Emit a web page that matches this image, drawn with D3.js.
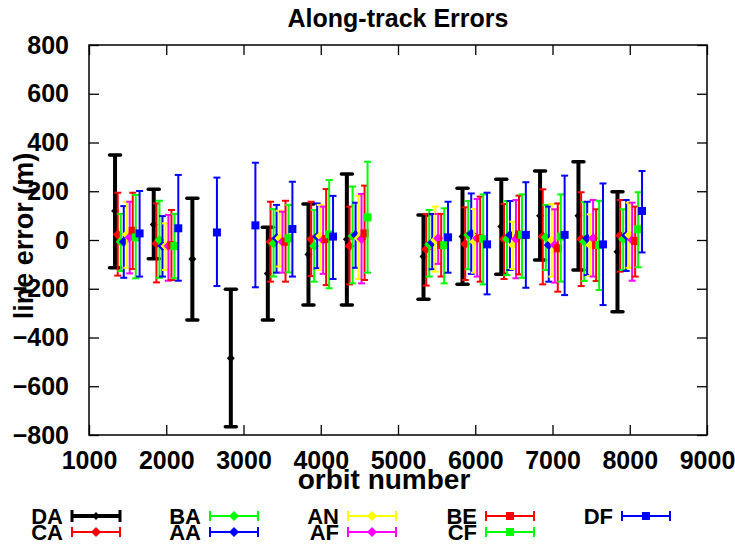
<!DOCTYPE html>
<html><head><meta charset="utf-8">
<script src="https://cdn.jsdelivr.net/npm/d3@7"></script>
<style>
html,body{margin:0;padding:0;background:#fff;}
text{font-family:"Liberation Sans",Arial,sans-serif;font-weight:bold;fill:#000;}
</style></head>
<body>
<svg id="chart" width="735" height="544"></svg>
<script>
// ---- data ----
const clusterOrbits = [1337, 1838, 2338, 2836, 3315, 3841, 4338, 5330, 5835, 6337, 6839, 7336, 7841];
const seriesNames = ["DA","CA","BA","AA","AN","AF","BE","CF","DF"];
const seriesOffsets = [0, 35, 74, 113, 152, 190, 229, 268, 318];
const seriesColors = ["#000000","#ff0000","#00ff00","#0000ff","#ffff00","#ff00ff","#ff0000","#00ff00","#0000ff"];
const seriesMarkers = ["diamond","diamond","diamond","diamond","diamond","diamond","square","square","square"];
const n = null;
const DA_mid = [119, 64, -78, -485, -137, -59, 3, -68, 14, 55, 100, 100, -48];
const DA_hi  = [349, 208, 171, -202, 52, 148, 271, 103, 212, 249, 283, 321, 198];
const DA_lo  = [-114, -77, -328, -766, -328, -267, -267, -243, -182, -141, -82, -123, -294];
const CA_mid = [23, -14, n, n, -7, 4, -25, -38, -16, 4, 14, 4, 18];
const CA_hi  = [194, 150, n, n, 157, 157, 137, 107, 134, 148, 208, 196, 164];
const CA_lo  = [-146, -174, n, n, -171, -148, -182, -187, -164, -160, -182, -189, -130];
const BA_mid = [-7, 0, n, n, -14, -25, 16, -18, 21, 4, 11, -7, 3];
const BA_hi  = [107, 161, n, n, 127, 123, 219, 123, 160, 160, 144, 155, 126];
const BA_lo  = [-127, -155, n, n, -150, -171, -178, -150, -120, -144, -123, -168, -123];
const AA_mid = [-7, -25, n, n, 7, 14, 21, -10, 27, 21, -21, 7, 18];
const AA_hi  = [139, 98, n, n, 144, 150, 153, 107, 191, 160, 137, 157, 164];
const AA_lo  = [-155, -150, n, n, -134, -116, -114, -120, -139, -123, -171, -144, -127];
const AN_mid = [23, -25, n, n, 7, 16, 7, 0, -7, -21, 0, -21, 21];
const AN_hi  = [157, 68, n, n, 120, 144, 181, 137, 127, 75, 148, 105, 153];
const AN_lo  = [-114, -123, n, n, -109, -123, -160, -130, -134, -119, -150, -148, -114];
const AF_mid = [11, -25, n, n, -7, 0, 4, 7, 7, 4, -21, 7, 0];
const AF_hi  = [157, 103, n, n, 116, 137, 189, 107, 168, 164, 126, 164, 153];
const AF_lo  = [-137, -167, n, n, -134, -139, -178, -98, -150, -157, -175, -150, -167];
const BE_mid = [38, -21, n, n, -7, 4, 27, -21, 7, 23, -34, -21, -4];
const BE_hi  = [194, 123, n, n, 161, 209, 223, 107, 178, 182, 150, 126, 137];
const BE_lo  = [-119, -164, n, n, -171, -185, -164, -150, -171, -141, -212, -168, -150];
const CF_mid = [11, -25, n, n, 7, 23, 93, -21, 4, 21, 14, -21, 44];
const CF_hi  = [185, 107, n, n, 144, 246, 321, 130, 187, 187, 187, 161, 196];
const CF_lo  = [-157, -157, n, n, -133, -198, -134, -178, -182, -155, -171, -205, -112];
const DF_mid = [27, 48, 31, 60, 45, 14, n, 11, -18, 21, 21, -18, 119];
const DF_hi  = [201, 267, 256, 317, 239, 181, n, 157, 194, 237, 264, 232, 283];
const DF_lo  = [-150, -167, -189, -194, -150, -160, n, -134, -223, -196, -226, -267, -51];
const xTicks = [1000, 2000, 3000, 4000, 5000, 6000, 7000, 8000, 9000];
const yTicks = [-800, -600, -400, -200, 0, 200, 400, 600, 800];

const seriesData = [
  [DA_mid, DA_lo, DA_hi], [CA_mid, CA_lo, CA_hi], [BA_mid, BA_lo, BA_hi],
  [AA_mid, AA_lo, AA_hi], [AN_mid, AN_lo, AN_hi], [AF_mid, AF_lo, AF_hi],
  [BE_mid, BE_lo, BE_hi], [CF_mid, CF_lo, CF_hi], [DF_mid, DF_lo, DF_hi]
];

// ---- layout ----
const svg = d3.select("#chart");
const L = 89, R = 707, T = 45, B = 435;
const x = d3.scaleLinear().domain([1000, 9000]).range([L, R]);
const y = d3.scaleLinear().domain([-800, 800]).range([B, T]);

// frame
svg.append("rect").attr("x", L).attr("y", T).attr("width", R - L).attr("height", B - T)
  .attr("fill", "none").attr("stroke", "#000").attr("stroke-width", 1.5);

// axes with inward ticks
const tl = 10;
const styleText = g => g.selectAll("text").attr("font-size", 25).attr("font-family", "Liberation Sans, Arial").attr("font-weight", "bold").attr("fill", "#000");
svg.append("g").attr("transform", `translate(0,${B})`)
  .call(d3.axisBottom(x).tickValues(xTicks).tickSize(-tl).tickPadding(tl + 6).tickFormat(d3.format("d")))
  .call(g => { g.select(".domain").remove(); g.selectAll("line").attr("stroke-width", 1.3); styleText(g); });
svg.append("g").attr("transform", `translate(0,${T})`)
  .call(d3.axisTop(x).tickValues(xTicks).tickSize(-tl).tickFormat(""))
  .call(g => { g.select(".domain").remove(); g.selectAll("line").attr("stroke-width", 1.3); });
svg.append("g").attr("transform", `translate(${L},0)`)
  .call(d3.axisLeft(y).tickValues(yTicks).tickSize(-tl).tickPadding(tl + 10).tickFormat(d3.format("d")))
  .call(g => { g.select(".domain").remove(); g.selectAll("line").attr("stroke-width", 1.3); styleText(g); });
svg.append("g").attr("transform", `translate(${R},0)`)
  .call(d3.axisRight(y).tickValues(yTicks).tickSize(-tl).tickFormat(""))
  .call(g => { g.select(".domain").remove(); g.selectAll("line").attr("stroke-width", 1.3); });

// titles
svg.append("text").attr("x", 398).attr("y", 27).attr("text-anchor", "middle").attr("font-size", 25).text("Along-track Errors");
svg.append("text").attr("x", 384).attr("y", 489).attr("text-anchor", "middle").attr("font-size", 28).text("orbit number");
svg.append("text").attr("transform", "translate(33,236) rotate(-90)").attr("text-anchor", "middle").attr("font-size", 27).text("line error (m)");

// marker drawing helper
function drawMarker(g, type, cx, cy, size, color) {
  if (type === "square") {
    g.append("rect").attr("x", cx - size / 2).attr("y", cy - size / 2).attr("width", size).attr("height", size).attr("fill", color);
  } else {
    const h = size / 2 + 1;
    g.append("path").attr("d", `M${cx},${cy - h}L${cx + h},${cy}L${cx},${cy + h}L${cx - h},${cy}Z`).attr("fill", color);
  }
}

// error bars
const plot = svg.append("g");
seriesData.forEach((sd, si) => {
  const [mid, lo, hi] = sd;
  const color = seriesColors[si];
  const thick = si === 0;
  const lw = thick ? 4 : 2;
  const capW = thick ? 11 : 7;
  const msize = thick ? 6 : 8;
  const g = plot.append("g");
  clusterOrbits.forEach((orb, ci) => {
    if (mid[ci] === null) return;
    const cx = x(orb + seriesOffsets[si]);
    g.append("line").attr("x1", cx).attr("x2", cx).attr("y1", y(lo[ci])).attr("y2", y(hi[ci]))
      .attr("stroke", color).attr("stroke-width", lw);
    [lo[ci], hi[ci]].forEach(v => {
      g.append("line").attr("x1", cx - capW / 2).attr("x2", cx + capW / 2).attr("y1", y(v)).attr("y2", y(v))
        .attr("stroke", color).attr("stroke-width", thick ? 3.5 : 2).attr("stroke-linecap", thick ? "round" : "butt");
    });
    drawMarker(g, seriesMarkers[si], cx, y(mid[ci]), msize, color);
  });
});

// legend
const legCols = [72, 210, 348, 486, 622];
const legRows = [516, 532];
const legLen = 48;
seriesNames.forEach((name, si) => {
  const col = Math.floor(si / 2), row = si % 2;
  const lx = legCols[col], ly = legRows[row];
  const color = seriesColors[si];
  const thick = si === 0;
  const g = svg.append("g");
  g.append("text").attr("x", lx - 9).attr("y", ly + 8).attr("text-anchor", "end").attr("font-size", 22).text(name);
  g.append("line").attr("x1", lx).attr("x2", lx + legLen).attr("y1", ly).attr("y2", ly).attr("stroke", color).attr("stroke-width", thick ? 4 : 2);
  [lx, lx + legLen].forEach(ex => {
    g.append("line").attr("x1", ex).attr("x2", ex).attr("y1", ly - (thick ? 6 : 5)).attr("y2", ly + (thick ? 6 : 5))
      .attr("stroke", color).attr("stroke-width", thick ? 3 : 2);
  });
  drawMarker(g, seriesMarkers[si], lx + legLen / 2, ly, thick ? 6 : 8, color);
});
</script>
</body></html>
